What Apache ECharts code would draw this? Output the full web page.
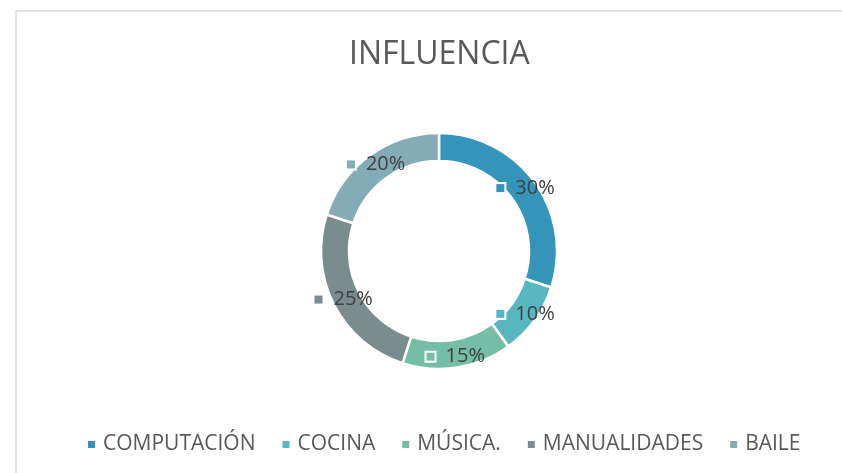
<!DOCTYPE html>
<html>
<head>
<meta charset="utf-8">
<script src="https://cdn.jsdelivr.net/npm/echarts@6/dist/echarts.min.js"></script>
<style>
  html, body { margin: 0; padding: 0; background: #ffffff; }
  #chart { width: 842px; height: 473px; }
</style>
</head>
<body>
<div id="chart"></div>
<script>
// Activity categories and their share of influence (%)
var categories = ['COMPUTACIÓN', 'COCINA', 'MÚSICA.', 'MANUALIDADES', 'BAILE'];
var shares = [30, 10, 15, 25, 20];
var colors = ['#3494BA', '#58B6C0', '#75BDA7', '#7A8C8E', '#84ACB6'];
var chartTitle = 'INFLUENCIA';

var FONT = '"Open Sans", "Liberation Sans", sans-serif';

var data = categories.map(function (name, i) {
  return {
    name: name,
    value: shares[i],
    itemStyle: { color: colors[i] },
    label: {
      rich: {
        m: {
          width: 8, height: 8,
          backgroundColor: colors[i],
          borderColor: '#ffffff', borderWidth: 2
        }
      }
    }
  };
});

var chart = echarts.init(document.getElementById('chart'), null, { renderer: 'canvas' });
chart.setOption({
  backgroundColor: '#ffffff',
  animation: false,
  color: colors,
  graphic: [{
    type: 'rect',
    shape: { x: 16, y: 11, width: 1000, height: 700 },
    style: { fill: 'none', stroke: '#d9d9d9', lineWidth: 1.5 },
    silent: true,
    z: -1
  }],
  title: {
    text: chartTitle,
    left: 344,
    top: 34,
    textStyle: { fontFamily: FONT, fontSize: 32, fontWeight: 'normal', color: '#595959' }
  },
  legend: {
    data: categories,
    left: 81,
    top: 429,
    icon: 'rect',
    itemWidth: 9,
    itemHeight: 9,
    itemGap: 25,
    textStyle: { fontFamily: FONT, fontSize: 21, color: '#595959', padding: [0, 0, 0, 2] }
  },
  series: [{
    type: 'pie',
    center: [439, 251],
    radius: [90, 118],
    startAngle: 90,
    clockwise: true,
    avoidLabelOverlap: false,
    itemStyle: { borderColor: '#ffffff', borderWidth: 2.5 },
    label: {
      show: true,
      position: 'inside',
      formatter: '{m|}{s| }{v|{c}%}',
      rich: {
        s: { width: 11 },
        v: { fontFamily: FONT, fontSize: 20, color: '#404040' }
      }
    },
    labelLine: { show: false },
    data: data
  }]
});
</script>
</body>
</html>
